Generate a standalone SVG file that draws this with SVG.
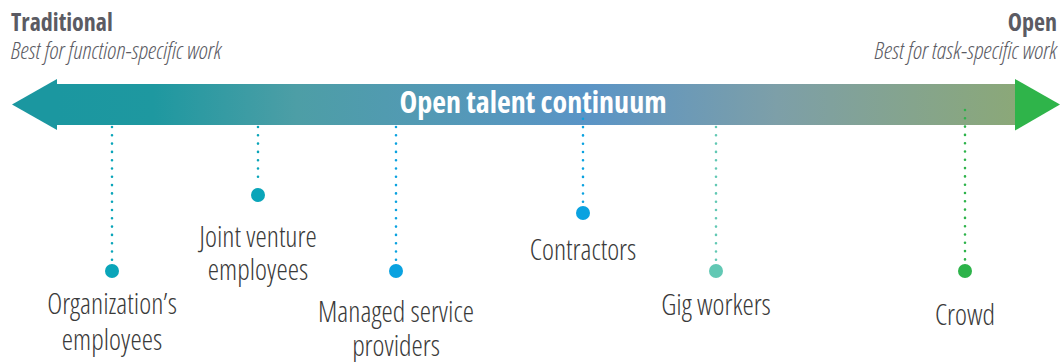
<svg xmlns="http://www.w3.org/2000/svg" width="1062" height="362" viewBox="0 0 1062 362">
<defs>
<linearGradient id="bar" x1="57" y1="0" x2="1017" y2="0" gradientUnits="userSpaceOnUse">
<stop offset="0" stop-color="#1b97a0"/>
<stop offset="0.1" stop-color="#1e98a0"/>
<stop offset="0.25" stop-color="#4d9ea6"/>
<stop offset="0.55" stop-color="#5a94c6"/>
<stop offset="0.75" stop-color="#7d9fa8"/>
<stop offset="1" stop-color="#8ba878"/>
</linearGradient>
<style>
text{font-family:"Open Sans","Liberation Sans",sans-serif;font-stretch:condensed;}
.hd{font-weight:700;font-size:24px;fill:#5b5b63;}
.sub{font-weight:300;font-style:italic;font-size:24px;fill:#5b5b63;}
.lbl{font-weight:300;font-size:28.5px;fill:#3a3a3a;text-anchor:middle;}
.ttl{font-weight:700;font-size:30px;fill:#ffffff;text-anchor:middle;}
.dl{fill:none;stroke-width:2.6;stroke-linecap:round;stroke-dasharray:0 8.3;}
</style>
</defs>
<g id="arrow">
<rect x="56" y="84" width="960" height="41" fill="url(#bar)"/>
<polygon points="57,79 57,130 12,104.5" fill="#1b97a0"/>
<polygon points="1015,79 1015,130.5 1060,104.5" fill="#2fb44a"/>
<text class="ttl" x="533" y="112.5">Open talent continuum</text>
</g>
<g id="header-left">
<text class="hd" x="11" y="31">Traditional</text>
<text class="sub" x="11" y="59">Best for function-specific work</text>
</g>
<g id="header-right">
<text class="hd" x="1057" y="31" text-anchor="end">Open</text>
<text class="sub" x="1057" y="59" text-anchor="end">Best for task-specific work</text>
</g>
<g id="connectors">
<line class="dl" x1="112" y1="127" x2="112" y2="260" stroke="#0aa5b9"/>
<line class="dl" x1="258" y1="127" x2="258" y2="185" stroke="#0aa5b9"/>
<line class="dl" x1="396" y1="127" x2="396" y2="260" stroke="#0aa2e0"/>
<line class="dl" x1="583" y1="110.5" x2="583" y2="202" stroke="#0aa2e0"/>
<line class="dl" x1="716" y1="127" x2="716" y2="260" stroke="#62c8b4"/>
<line class="dl" x1="965" y1="110" x2="965" y2="260" stroke="#2db34a"/>
</g>
<g id="org-employees">
<circle cx="112" cy="271" r="7" fill="#0aa5b9"/>
<text class="lbl" x="112" y="314">Organization’s</text>
<text class="lbl" x="112" y="350">employees</text>
</g>
<g id="joint-venture">
<circle cx="258" cy="195" r="7" fill="#0aa5b9"/>
<text class="lbl" x="258" y="247">Joint venture</text>
<text class="lbl" x="258" y="280">employees</text>
</g>
<g id="managed-service">
<circle cx="396" cy="271" r="7" fill="#0aa2e0"/>
<text class="lbl" x="396" y="322">Managed service</text>
<text class="lbl" x="396" y="356">providers</text>
</g>
<g id="contractors">
<circle cx="583" cy="213" r="7" fill="#0aa2e0"/>
<text class="lbl" x="583" y="260">Contractors</text>
</g>
<g id="gig-workers">
<circle cx="716" cy="271" r="7" fill="#62c8b4"/>
<text class="lbl" x="716" y="315">Gig workers</text>
</g>
<g id="crowd">
<circle cx="965" cy="271" r="7" fill="#2db34a"/>
<text class="lbl" x="965" y="325">Crowd</text>
</g>
</svg>
